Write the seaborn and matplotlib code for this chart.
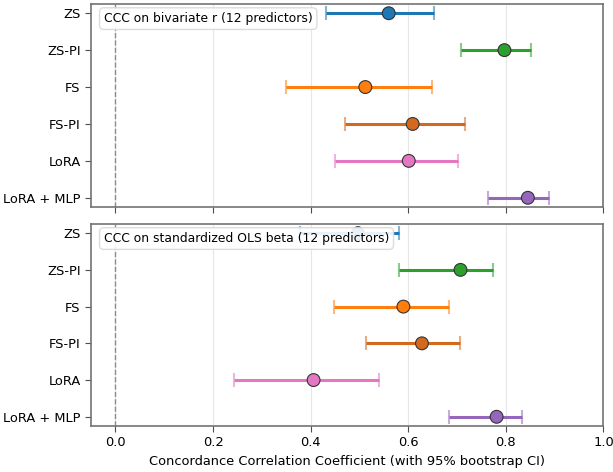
import numpy as np
import pandas as pd
import matplotlib
matplotlib.use("Agg")
import matplotlib.pyplot as plt
import seaborn as sns

sns.set_style("ticks")
plt.rcParams['font.family'] = ['DejaVu Sans']
plt.rcParams['text.color'] = 'black'
plt.rcParams['axes.labelcolor'] = 'black'

models = ["ZS", "ZS-PI", "FS", "FS-PI", "LoRA", "LoRA + MLP"]
colors = ["#1f77b4", "#2ca02c", "#ff7f0e", "#d2691e", "#e377c2", "#9467bd"]

# CCC on bivariate r
r_ccc = [0.560, 0.797, 0.512, 0.609, 0.601, 0.845]
r_lo = [0.432, 0.708, 0.350, 0.470, 0.450, 0.764]
r_hi = [0.652, 0.852, 0.649, 0.716, 0.701, 0.888]

# CCC on standardized OLS beta
b_ccc = [0.497, 0.707, 0.590, 0.628, 0.406, 0.781]
b_lo = [0.378, 0.582, 0.448, 0.514, 0.243, 0.684]
b_hi = [0.582, 0.774, 0.683, 0.705, 0.540, 0.832]

panels = [
    ("CCC on bivariate r (12 predictors)", r_ccc, r_lo, r_hi),
    ("CCC on standardized OLS beta (12 predictors)", b_ccc, b_lo, b_hi),
]

fig = plt.figure(figsize=(6.13, 4.72), dpi=100)
ax_top = fig.add_axes([0.1485, 0.5614, 0.836, 0.4301])
ax_bot = fig.add_axes([0.1485, 0.0975, 0.836, 0.4280], sharex=ax_top)

for ax, (title, ccc, lo, hi) in zip([ax_top, ax_bot], panels):
    df = pd.DataFrame({"model": models, "ccc": ccc, "lo": lo, "hi": hi})
    ypos = np.arange(len(models))
    ax.axvline(0, color="0.55", ls="--", lw=1, zorder=1)
    for i, row in df.iterrows():
        err = [[row.ccc - row.lo], [row.hi - row.ccc]]
        _, caps, _ = ax.errorbar(row.ccc, ypos[i], xerr=err, fmt="none",
                                 ecolor=colors[i], elinewidth=2.2,
                                 capsize=5, capthick=1.5, zorder=2)
        for c in caps:
            c.set_alpha(0.55)
    sns.scatterplot(data=df, x="ccc", y="model", hue="model", palette=colors,
                    s=85, edgecolor="0.2", linewidth=0.8, legend=False,
                    zorder=3, ax=ax)
    ax.set_yticks(ypos)
    ax.set_yticklabels(models)
    ax.set_ylim(5.25, -0.25)
    ax.set_xlim(-0.05, 1.0)
    ax.set_ylabel("")
    ax.set_xlabel("")
    ax.grid(axis="x", color="0.9", lw=0.8)
    ax.set_axisbelow(True)
    for sp in ax.spines.values():
        sp.set_visible(True)
        sp.set_color("0.45")
        sp.set_linewidth(1.2)
    ax.tick_params(axis="both", labelsize=9.4, color="0.3", length=4,
                   labelcolor="black")
    ax.text(0.025, 0.96, title, transform=ax.transAxes, fontsize=8.9,
            va="top", ha="left", zorder=5, color="black",
            bbox=dict(boxstyle="round,pad=0.35", facecolor="white",
                      edgecolor="0.85", alpha=0.9))

ax_top.tick_params(axis="x", labelbottom=False)
ax_bot.set_xticks([0.0, 0.2, 0.4, 0.6, 0.8, 1.0])
ax_bot.set_xlabel("Concordance Correlation Coefficient (with 95% bootstrap CI)",
                  fontsize=9.4)

fig.savefig("out.png", dpi=100)
